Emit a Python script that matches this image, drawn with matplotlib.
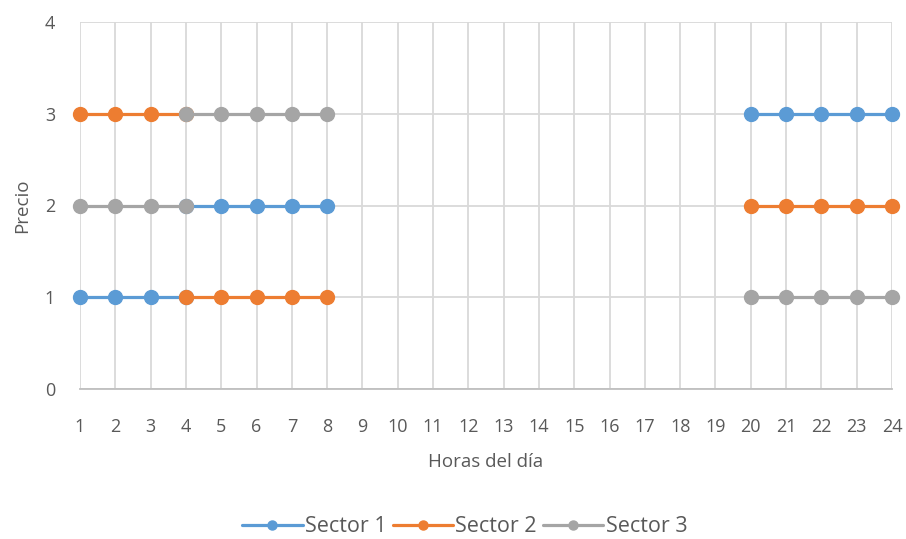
import numpy as np
import matplotlib.pyplot as plt

# hours / prices per sector; NaN breaks the line between blocks
horas_s1 = [1, 2, 3, 4, np.nan, 4, 5, 6, 7, 8, np.nan, 20, 21, 22, 23, 24]
precio_s1 = [1, 1, 1, 1, np.nan, 2, 2, 2, 2, 2, np.nan, 3, 3, 3, 3, 3]
horas_s2 = [1, 2, 3, 4, np.nan, 4, 5, 6, 7, 8, np.nan, 20, 21, 22, 23, 24]
precio_s2 = [3, 3, 3, 3, np.nan, 1, 1, 1, 1, 1, np.nan, 2, 2, 2, 2, 2]
horas_s3 = [1, 2, 3, 4, np.nan, 4, 5, 6, 7, 8, np.nan, 20, 21, 22, 23, 24]
precio_s3 = [2, 2, 2, 2, np.nan, 3, 3, 3, 3, 3, np.nan, 1, 1, 1, 1, 1]

nombres = ["Sector 1", "Sector 2", "Sector 3"]
colores = ["#5B9BD5", "#ED7D31", "#A5A5A5"]
xticks = list(range(1, 25))
yticks = [0, 1, 2, 3, 4]

plt.rcParams['font.family'] = ['Open Sans', 'DejaVu Sans']
txt = "#595959"

fig = plt.figure(figsize=(9.06, 5.39), dpi=100)
ax = fig.add_axes([80 / 906, 1 - 389 / 539, 812 / 906, 367 / 539])

series = [(horas_s1, precio_s1), (horas_s2, precio_s2), (horas_s3, precio_s3)]
for (h, p), nom, col in zip(series, nombres, colores):
    ax.plot(h, p, color=col, lw=2.3, marker="o", ms=10, label=nom,
            solid_capstyle="round", clip_on=False, zorder=3)

ax.set_xlim(1, 24)
ax.set_ylim(0, 4)
ax.set_xticks(xticks)
ax.set_yticks(yticks)
ax.grid(True, color="#D9D9D9", lw=1.3)
ax.set_axisbelow(True)
for s in ["top", "right", "left"]:
    ax.spines[s].set_visible(False)
ax.spines["bottom"].set_color("#BFBFBF")
ax.spines["bottom"].set_linewidth(1.3)
ax.tick_params(length=0, labelsize=13, labelcolor=txt)
ax.tick_params(axis="x", pad=21)
ax.tick_params(axis="y", pad=18)

ax.set_xlabel("Horas del día", fontsize=13.5, color=txt, labelpad=12)
fig.text(22 / 906, 1 - 206 / 539, "Precio", rotation=90, fontsize=13.5,
         color=txt, ha="center", va="center")

fig.legend(loc="center", ncol=3, frameon=False, fontsize=15.5,
           labelcolor=txt, bbox_to_anchor=(0.513, 1 - 527 / 539),
           handlelength=2.8, handletextpad=0.1, columnspacing=0.3,
           markerscale=0.65)

fig.savefig("out.png", dpi=100)
